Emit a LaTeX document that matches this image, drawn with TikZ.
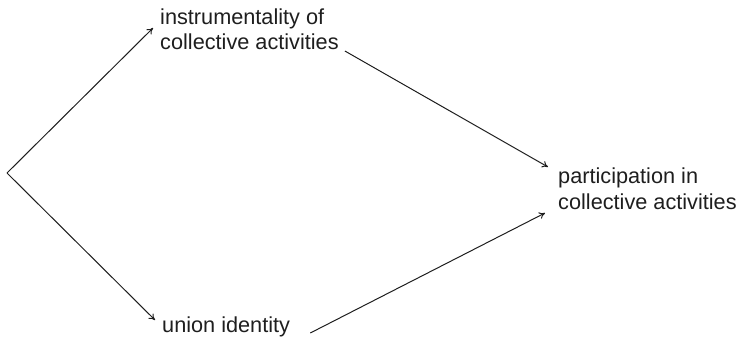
\documentclass[tikz,border=0pt]{standalone}
\usepackage{fontspec}
\setmainfont{Liberation Sans}
\usetikzlibrary{arrows.meta}
\definecolor{ink}{HTML}{1E1E1E}
\tikzset{
  lbl/.style={anchor=north west, inner sep=0pt, align=left, text=ink,
    font={\fontsize{21.7}{25.5}\selectfont}},
  conn/.style={draw=ink, line width=1pt, -{To[length=6pt,width=7pt]}}
}
\begin{document}
\begin{tikzpicture}[x=1pt,y=-1pt]
\useasboundingbox (0,0) rectangle (738,346);
\node[lbl] (instr) at (160,8.5) {instrumentality of\\collective activities};
\node[lbl] (part) at (558,168) {participation in\\collective activities};
\node[lbl] (union) at (162,317) {union identity};
\coordinate (v) at (7,173);
\draw[conn] (v) -- ([shift={(-7,19.5)}]instr.north west);
\draw[conn] (v) -- ([shift={(-7,3)}]union.north west);
\draw[conn] ([shift={(6,42.5)}]instr.north east) -- ([shift={(-10,-1)}]part.north west);
\draw[conn] ([shift={(20,16)}]union.north east) -- ([shift={(-13,45)}]part.north west);
\end{tikzpicture}
\end{document}
